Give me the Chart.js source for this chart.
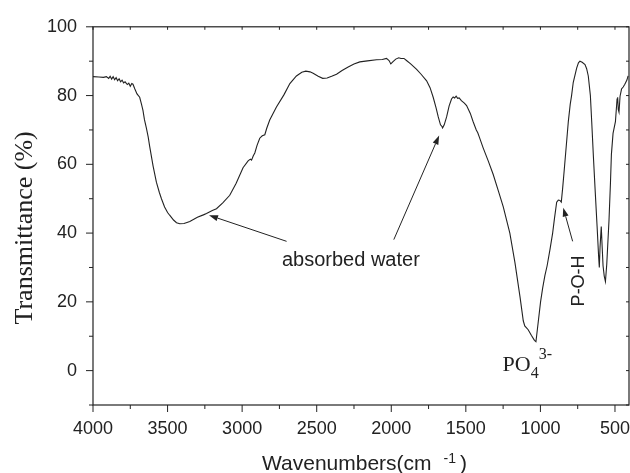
<!DOCTYPE html>
<html>
<head>
<meta charset="utf-8">
<script src="https://cdn.jsdelivr.net/npm/chart.js@4.4.1/dist/chart.umd.min.js"></script>
<style>
  html, body { margin: 0; padding: 0; background: #fff; }
</style>
</head>
<body>
<canvas id="myChart" width="630" height="473"></canvas>
<script>
// FTIR spectrum (wavenumber in cm-1, transmittance in %)
let wavenumbers = [
  4000, 3960, 3930, 3910, 3895, 3885, 3875, 3865, 3855, 3845, 3835, 3825, 3815, 3805,
  3795, 3785, 3770, 3760, 3750, 3740, 3732, 3720, 3705, 3687, 3675, 3665, 3655, 3642,
  3630, 3620, 3597, 3575, 3555, 3541, 3520, 3500, 3486, 3460, 3440, 3418, 3390, 3370,
  3351, 3300, 3260, 3239, 3200, 3172, 3130, 3083, 3040, 2994, 2960, 2945, 2937, 2925,
  2915, 2900, 2882, 2865, 2848, 2835, 2815, 2770, 2720, 2680, 2636, 2600, 2573, 2545,
  2524, 2490, 2460, 2430, 2400, 2367, 2330, 2289, 2250, 2211, 2160, 2099, 2060, 2032,
  2015, 2003, 1990, 1970, 1950, 1935, 1915, 1898, 1870, 1830, 1800, 1763, 1740, 1719,
  1700, 1685, 1670, 1660, 1656, 1645, 1629, 1612, 1596, 1585, 1575, 1565, 1555, 1545,
  1530, 1510, 1495, 1470, 1451, 1430, 1420, 1410, 1384, 1350, 1317, 1280, 1249, 1205,
  1171, 1137, 1115, 1105, 1082, 1060, 1040, 1030, 1015, 999, 985, 970, 955, 936,
  918, 905, 891, 880, 869, 860, 851, 840, 824, 813, 800, 791, 780, 757,
  745, 735, 720, 701, 690, 679, 665, 656, 645, 634, 620, 610, 605, 600,
  592, 586, 580, 572, 564, 555, 540, 530, 524, 513, 497, 486, 482, 478,
  473, 466, 456, 445, 434, 420, 412
];
let transmittance = [
  85.5, 85.4, 85.3, 85.5, 85.0, 85.6, 84.8, 85.5, 84.6, 85.2, 84.3, 84.9, 84.0, 84.5,
  83.7, 84.0, 83.2, 83.6, 82.7, 83.5, 83.3, 82.0, 80.5, 79.5, 77.5, 75.7, 73.0, 70.5,
  68.0, 65.2, 59.5, 54.8, 51.8, 50.0, 47.6, 46.0, 45.2, 43.8, 43.0, 42.7, 42.8, 43.1,
  43.4, 44.6, 45.3, 45.7, 46.6, 47.1, 48.8, 51.0, 54.5, 59.0, 61.0, 61.5, 61.2, 62.5,
  63.3, 65.5, 67.6, 68.3, 68.6, 70.5, 72.9, 76.7, 80.2, 83.5, 85.7, 86.8, 87.1, 86.9,
  86.5, 85.6, 85.0, 85.1, 85.6, 86.2, 87.3, 88.3, 89.2, 89.8, 90.1, 90.4, 90.5, 90.8,
  90.2, 89.2, 89.8, 90.6, 91.0, 90.8, 90.8, 90.2, 89.2, 87.6, 86.2, 84.3, 82.3, 79.5,
  76.5, 73.8, 71.5, 71.0, 70.6, 71.5, 73.8, 77.0, 79.0, 79.6, 79.3, 79.8, 79.2, 79.3,
  78.5, 77.8, 77.1, 74.8, 72.4, 70.0, 69.2, 68.0, 64.8, 61.0, 57.1, 52.0, 47.6, 40.0,
  31.5, 21.5, 14.5, 13.0, 11.9, 10.2, 8.8, 8.4, 14.0, 20.0, 24.0, 27.6, 30.5, 35.2,
  40.0, 44.5, 49.0, 49.6, 49.5, 49.0, 53.0, 58.5, 66.7, 72.4, 77.5, 80.0, 83.8, 88.0,
  89.5, 90.0, 89.7, 89.0, 87.8, 85.7, 80.0, 72.4, 62.5, 53.3, 42.0, 33.5, 30.0, 36.0,
  41.9, 36.0, 30.5, 27.5, 25.9, 31.0, 43.8, 55.0, 62.9, 69.0, 72.4, 79.0, 79.5, 76.0,
  75.2, 79.8, 81.9, 82.5, 83.3, 84.5, 85.7
];

let xTickValues = [500, 1000, 1500, 2000, 2500, 3000, 3500, 4000];
let yTickValues = [0, 20, 40, 60, 80, 100];

// annotation arrows: tip and tail in data units
let arrows = [
  { tip: [3222, 45.2], tail: [2702, 37.6] },
  { tip: [1679, 68.4], tail: [1983, 38.1] },
  { tip: [847, 47.4], tail: [784, 37.6] }
];

const ink = "#222";

function seg(ctx, x1, y1, x2, y2) {
  ctx.beginPath();
  ctx.moveTo(x1, y1);
  ctx.lineTo(x2, y2);
  ctx.stroke();
}

const framePlugin = {
  id: "frame",
  afterDraw(chart) {
    const { ctx, chartArea: a, scales: { x, y } } = chart;
    ctx.save();
    ctx.strokeStyle = ink;
    ctx.fillStyle = ink;
    ctx.lineWidth = 1.2;
    ctx.strokeRect(a.left, a.top, a.right - a.left, a.bottom - a.top);

    // tick marks, major outward, minor shorter; small inward ticks on top/right
    ctx.lineWidth = 1;
    for (let v = 500; v <= 4000; v += 250) {
      const px = x.getPixelForValue(v);
      const major = v % 500 === 0;
      seg(ctx, px, a.bottom, px, a.bottom + (major ? 7 : 4));
      seg(ctx, px, a.top, px, a.top + 3);
    }
    for (let v = -10; v <= 100; v += 10) {
      const py = y.getPixelForValue(v);
      const major = v % 20 === 0;
      seg(ctx, a.left - (major ? 7 : 4), py, a.left, py);
      seg(ctx, a.right - 3, py, a.right, py);
    }

    // arrows
    arrows.forEach(ar => {
      const tx = x.getPixelForValue(ar.tip[0]), ty = y.getPixelForValue(ar.tip[1]);
      const sx = x.getPixelForValue(ar.tail[0]), sy = y.getPixelForValue(ar.tail[1]);
      const ang = Math.atan2(ty - sy, tx - sx);
      const len = 9, half = 3;
      const bx = tx - len * Math.cos(ang), by = ty - len * Math.sin(ang);
      ctx.lineWidth = 1;
      seg(ctx, sx, sy, bx, by);
      ctx.beginPath();
      ctx.moveTo(tx, ty);
      ctx.lineTo(bx + half * Math.sin(ang), by - half * Math.cos(ang));
      ctx.lineTo(bx - half * Math.sin(ang), by + half * Math.cos(ang));
      ctx.closePath();
      ctx.fill();
    });

    // labels
    ctx.textBaseline = "alphabetic";
    ctx.font = "20px 'Liberation Sans', Arial, sans-serif";
    ctx.textAlign = "center";
    ctx.fillText("absorbed water", x.getPixelForValue(2271), y.getPixelForValue(30.5));

    ctx.textAlign = "left";
    let px = x.getPixelForValue(1254), py = y.getPixelForValue(0);
    ctx.font = "22px 'Liberation Serif', 'Times New Roman', serif";
    ctx.fillText("PO", px, py);
    px += ctx.measureText("PO").width;
    ctx.font = "16px 'Liberation Serif', 'Times New Roman', serif";
    ctx.fillText("4", px, py + 7);
    px += ctx.measureText("4").width;
    ctx.fillText("3-", px, py - 12);

    ctx.save();
    ctx.translate(x.getPixelForValue(755) + 7, y.getPixelForValue(26.1));
    ctx.rotate(-Math.PI / 2);
    ctx.font = "18px 'Liberation Sans', Arial, sans-serif";
    ctx.textAlign = "center";
    ctx.fillText("P-O-H", 0, 0);
    ctx.restore();

    // axis titles
    ctx.save();
    ctx.translate(32, (a.top + a.bottom) / 2 + 12);
    ctx.rotate(-Math.PI / 2);
    ctx.font = "26px 'Liberation Serif', 'Times New Roman', serif";
    ctx.textAlign = "center";
    ctx.fillText("Transmittance (%)", 0, 0);
    ctx.restore();

    ctx.textAlign = "left";
    ctx.font = "21px 'Liberation Sans', Arial, sans-serif";
    let tx0 = 262;
    ctx.fillText("Wavenumbers(cm", tx0, 470);
    tx0 += ctx.measureText("Wavenumbers(cm").width + 12;
    ctx.font = "14px 'Liberation Sans', Arial, sans-serif";
    ctx.fillText("-1", tx0, 463);
    tx0 += ctx.measureText("-1").width + 4;
    ctx.font = "21px 'Liberation Sans', Arial, sans-serif";
    ctx.fillText(")", tx0, 470);

    ctx.restore();
  }
};

new Chart("myChart", {
  type: "line",
  data: {
    datasets: [{
      data: wavenumbers.map((w, i) => ({ x: w, y: transmittance[i] })),
      borderColor: ink,
      borderWidth: 1.1,
      pointRadius: 0,
      tension: 0,
      fill: false
    }]
  },
  options: {
    responsive: false,
    animation: false,
    layout: { padding: { top: 20, right: 1, left: 0, bottom: 0 } },
    plugins: {
      legend: { display: false },
      tooltip: { enabled: false }
    },
    scales: {
      x: {
        type: "linear",
        reverse: true,
        min: 406,
        max: 4000,
        afterBuildTicks: s => { s.ticks = xTickValues.map(v => ({ value: v })); },
        afterFit: s => { s.height = 68; },
        grid: { display: false, drawTicks: false },
        border: { display: false },
        ticks: {
          padding: 13,
          color: ink,
          maxRotation: 0,
          autoSkip: false,
          callback: v => String(v),
          font: { family: "'Liberation Sans', Arial, sans-serif", size: 18 }
        }
      },
      y: {
        min: -10,
        max: 100,
        afterBuildTicks: s => { s.ticks = yTickValues.map(v => ({ value: v })); },
        afterFit: s => { s.width = 93; },
        grid: { display: false, drawTicks: false },
        border: { display: false },
        ticks: {
          padding: 16,
          color: ink,
          callback: v => String(v),
          font: { family: "'Liberation Sans', Arial, sans-serif", size: 18 }
        }
      }
    }
  },
  plugins: [framePlugin]
});
</script>
</body>
</html>
